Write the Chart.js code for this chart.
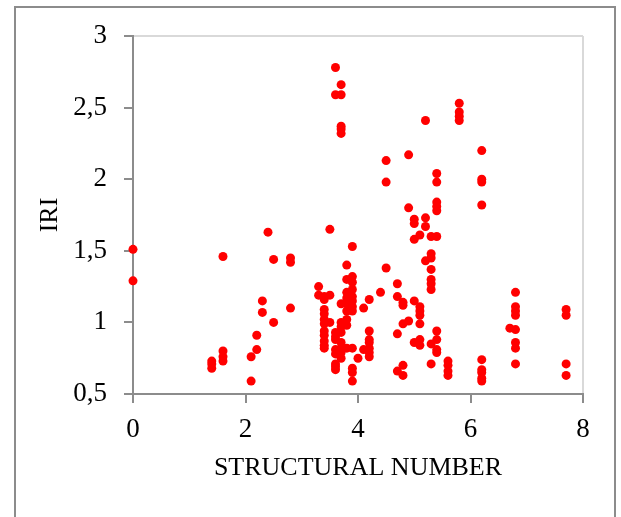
<!DOCTYPE html>
<html>
<head>
<meta charset="utf-8">
<script src="https://cdn.jsdelivr.net/npm/chart.js@4/dist/chart.umd.min.js"></script>
<style>
  html, body { margin: 0; padding: 0; background: #fff; overflow: hidden; }
  #wrap { position: relative; width: 621px; height: 517px; }
  #frame { position: absolute; left: 14px; top: 6px; width: 602px; height: 600px; border: 2px solid #8c8c8c; box-sizing: border-box; pointer-events: none; }
  canvas { position: absolute; left: 0; top: 0; }
</style>
</head>
<body>
<div id="wrap">
  <div id="frame"></div>
  <canvas id="c" width="621" height="517"></canvas>
</div>
<script>
// Structural number (x) and IRI (y)
const sn = [
  0, 0,
  1.4, 1.4, 1.4,
  1.6, 1.6, 1.6, 1.6,
  2.1, 2.1,
  2.2, 2.2,
  2.3, 2.3,
  2.4,
  2.5, 2.5,
  2.8, 2.8, 2.8,
  3.3, 3.3,
  3.4, 3.4, 3.4, 3.4, 3.4, 3.4, 3.4, 3.4, 3.4, 3.4, 3.4,
  3.5, 3.5, 3.5,
  3.6, 3.6, 3.6, 3.6, 3.6, 3.6, 3.6, 3.6, 3.6, 3.6,
  3.7, 3.7, 3.7, 3.7, 3.7, 3.7, 3.7, 3.7, 3.7, 3.7, 3.7, 3.7, 3.7,
  3.8, 3.8, 3.8, 3.8, 3.8, 3.8, 3.8, 3.8, 3.8,
  3.9, 3.9, 3.9, 3.9, 3.9, 3.9, 3.9, 3.9, 3.9, 3.9, 3.9, 3.9,
  4.0,
  4.1, 4.1,
  4.2, 4.2, 4.2, 4.2, 4.2, 4.2, 4.2,
  4.4,
  4.5, 4.5, 4.5,
  4.7, 4.7, 4.7, 4.7,
  4.8, 4.8, 4.8, 4.8, 4.8,
  4.9, 4.9, 4.9,
  5.0, 5.0, 5.0, 5.0, 5.0,
  5.1, 5.1, 5.1, 5.1, 5.1, 5.1, 5.1,
  5.2, 5.2, 5.2, 5.2,
  5.3, 5.3, 5.3, 5.3, 5.3, 5.3, 5.3, 5.3, 5.3,
  5.4, 5.4, 5.4, 5.4, 5.4, 5.4, 5.4, 5.4, 5.4, 5.4,
  5.6, 5.6, 5.6, 5.6,
  5.8, 5.8, 5.8, 5.8,
  6.2, 6.2, 6.2, 6.2, 6.2, 6.2, 6.2, 6.2, 6.2,
  6.7,
  6.8, 6.8, 6.8, 6.8, 6.8, 6.8, 6.8, 6.8,
  7.7, 7.7, 7.7, 7.7
];
const iri = [
  1.51, 1.29,
  0.73, 0.71, 0.68,
  1.46, 0.80, 0.76, 0.73,
  0.76, 0.59,
  0.91, 0.81,
  1.15, 1.07,
  1.63,
  1.44, 1.00,
  1.45, 1.42, 1.10,
  1.25, 1.19,
  1.18, 1.16, 1.09, 1.06, 1.02, 0.99, 0.94, 0.91, 0.87, 0.84, 0.82,
  1.65, 1.19, 1.00,
  2.78, 2.59, 0.93, 0.90, 0.88, 0.81, 0.78, 0.71, 0.69, 0.67,
  2.66, 2.59, 2.37, 2.35, 2.32, 1.13, 1.00, 0.97, 0.93, 0.86, 0.82, 0.79, 0.75,
  1.40, 1.30, 1.21, 1.17, 1.13, 1.08, 1.02, 0.98, 0.82,
  1.53, 1.32, 1.28, 1.23, 1.18, 1.15, 1.11, 1.08, 0.82, 0.68, 0.65, 0.59,
  0.75,
  1.10, 0.81,
  1.16, 0.94, 0.88, 0.86, 0.82, 0.79, 0.76,
  1.21,
  2.13, 1.98, 1.38,
  1.27, 1.18, 0.92, 0.66,
  1.14, 1.12, 0.99, 0.70, 0.63,
  2.17, 1.80, 1.01,
  1.72, 1.69, 1.58, 1.15, 0.86,
  1.61, 1.11, 1.08, 1.05, 0.99, 0.88, 0.84,
  2.41, 1.73, 1.67, 1.43,
  1.60, 1.48, 1.45, 1.37, 1.30, 1.27, 1.23, 0.85, 0.71,
  2.04, 1.98, 1.84, 1.81, 1.78, 1.60, 0.94, 0.88, 0.81, 0.79,
  0.73, 0.70, 0.66, 0.63,
  2.53, 2.47, 2.44, 2.41,
  2.20, 2.00, 1.98, 1.82, 0.74, 0.67, 0.65, 0.61, 0.59,
  0.96,
  1.21, 1.11, 1.08, 1.05, 0.95, 0.86, 0.82, 0.71,
  1.09, 1.05, 0.71, 0.63
];
const xTicks = [0, 2, 4, 6, 8];
const yTicks = [0.5, 1, 1.5, 2, 2.5, 3];
const yTickLabels = ['0,5', '1', '1,5', '2', '2,5', '3'];
const xTitle = 'STRUCTURAL NUMBER';
const yTitle = 'IRI';

const points = sn.map((x, i) => ({ x: x, y: iri[i] }));
const FONT = '"Liberation Serif", "Times New Roman", serif';
const AXIS = '#8c8c8c';
const GRID = '#d9d9d9';

new Chart(document.getElementById('c'), {
  type: 'scatter',
  data: {
    datasets: [{
      data: points,
      backgroundColor: '#ff0000',
      borderWidth: 0,
      pointRadius: 4.5,
      pointHoverRadius: 4.5,
      clip: false
    }]
  },
  options: {
    responsive: false,
    animation: false,
    devicePixelRatio: 1,
    layout: { padding: { left: 0, top: 36, right: 38, bottom: 0 } },
    plugins: { legend: { display: false }, tooltip: { enabled: false } },
    scales: {
      x: {
        type: 'linear',
        min: 0, max: 8,
        afterFit: s => { s.height = 123; },
        afterBuildTicks: s => { s.ticks = xTicks.map(v => ({ value: v })); },
        border: { color: AXIS, width: 2 },
        grid: {
          drawOnChartArea: true,
          color: c => (c.tick && c.tick.value === 8) ? GRID : 'rgba(0,0,0,0)',
          lineWidth: 2,
          tickColor: AXIS,
          tickWidth: 2,
          tickLength: 9
        },
        ticks: {
          color: '#000',
          padding: 11,
          maxRotation: 0,
          font: { family: FONT, size: 27 },
          callback: v => String(v)
        },
        title: {
          display: true,
          text: xTitle,
          color: '#000',
          font: { family: FONT, size: 26 },
          padding: { top: 0, bottom: 33 }
        }
      },
      y: {
        type: 'linear',
        min: 0.5, max: 3,
        afterFit: s => { s.width = 133; },
        afterBuildTicks: s => { s.ticks = yTicks.map(v => ({ value: v })); },
        border: { color: AXIS, width: 2 },
        grid: {
          drawOnChartArea: true,
          color: c => (c.tick && c.tick.value === 3) ? GRID : 'rgba(0,0,0,0)',
          lineWidth: 2,
          tickColor: AXIS,
          tickWidth: 2,
          tickLength: 9
        },
        ticks: {
          color: '#000',
          padding: 17,
          font: { family: FONT, size: 27 },
          callback: v => { const i = yTicks.indexOf(v); return i >= 0 ? yTickLabels[i] : ''; }
        },
        title: {
          display: true,
          text: yTitle,
          color: '#000',
          font: { family: FONT, size: 26 },
          padding: { top: 35, bottom: 0 }
        }
      }
    }
  }
});
</script>
</body>
</html>
